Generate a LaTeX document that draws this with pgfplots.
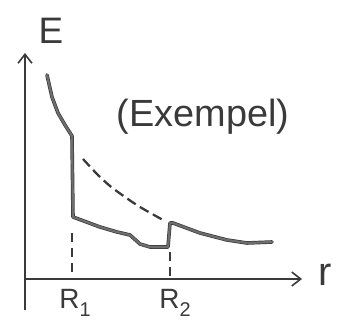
\documentclass[border=0pt]{standalone}
\usepackage{pgfplots}
\pgfplotsset{compat=1.18}
\usepackage{fontspec}
\setmainfont{Liberation Sans}
\usetikzlibrary{arrows.meta}
\definecolor{pen}{HTML}{3A3A3A}
\definecolor{marker}{HTML}{6E6E6E}
\newcommand{\radius}[1]{R\raisebox{-0.28em}{\fontsize{20}{22}\selectfont #1}}
\begin{document}
\begin{tikzpicture}
\begin{axis}[
  scale only axis, width=338bp, height=325bp,
  xmin=-25, xmax=313, ymin=-46, ymax=279,
  hide axis, clip=false,
]
% frame that fixes the size of the page
\addplot[draw=none] coordinates {(-25,-46) (313,279)};
% axes
\addplot[pen, line width=1.6pt, -{Straight Barb[length=9pt,width=14pt,line width=1.6pt]}]
  coordinates {(0,-31) (0,226)};
\addplot[pen, line width=1.6pt, -{Straight Barb[length=9pt,width=14pt,line width=1.6pt]}]
  coordinates {(0,0) (277,0)};
% field strength E(r), with the jumps at R1 and R2
\addplot[pen, line width=3.6pt, line join=round, line cap=round]
  coordinates {(22,204) (27,182) (33,166) (40,154) (47,143) (48,62) (75,52) (92,47) (105,44) (115,35) (125,32) (143,32) (145,56) (148,56) (175,46) (202,39) (222,36) (247,37)};
\addplot[marker, line width=2.2pt, line join=round, line cap=round]
  coordinates {(22,204) (27,182) (33,166) (40,154) (47,143) (48,62) (75,52) (92,47) (105,44) (115,35) (125,32) (143,32) (145,56) (148,56) (175,46) (202,39) (222,36) (247,37)};
% field without the shell (dashed)
\addplot[pen, line width=2.3pt, dash pattern=on 10pt off 5pt, smooth]
  coordinates {(58,120) (72,105) (85,93) (100,82) (115,72) (138,59)};
% guides down to the radii
\addplot[pen, line width=1.8pt, dash pattern=on 9pt off 6pt]
  coordinates {(47,46) (47,3)};
\addplot[pen, line width=1.8pt, dash pattern=on 9pt off 6pt]
  coordinates {(145,27) (145,0)};
% labels
\node[pen, font=\fontsize{37}{39}\selectfont] at (axis cs:26,248) {E};
\node[pen, font=\fontsize{40}{42}\selectfont] at (axis cs:300,4) {r};
\node[pen, font=\fontsize{28}{30}\selectfont] at (axis cs:50,-24) {\radius{1}};
\node[pen, font=\fontsize{28}{30}\selectfont] at (axis cs:150,-24) {\radius{2}};
\node[pen, font=\fontsize{38}{40}\selectfont] at (axis cs:178,162) {(Exempel)};
\end{axis}
\end{tikzpicture}
\end{document}
